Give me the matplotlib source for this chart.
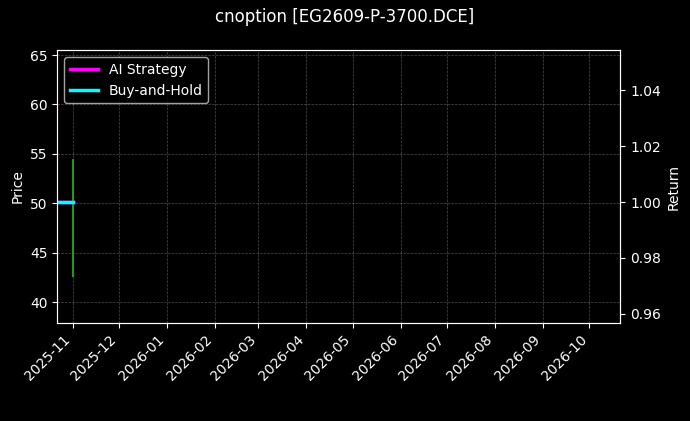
import matplotlib
matplotlib.use("Agg")
import matplotlib.pyplot as plt
import matplotlib.dates as mdates
import pandas as pd

plt.style.use("dark_background")

price_dates = pd.to_datetime(["2025-11-01"])
price_low = [42.5]
price_high = [54.5]
strat_dates = pd.to_datetime(["2025-10-22", "2025-11-01"])
strategy = [1.0, 1.0]
buyhold = [1.0, 1.0]

fig, ax = plt.subplots(figsize=(6.9, 4.21), dpi=100)
fig.subplots_adjust(left=0.083, right=0.899, top=0.881, bottom=0.233)
ax.vlines(price_dates, price_low, price_high, color="#22aa22", linewidth=1.3)
ax.set_ylim(37.9, 65.5)
ax.set_ylabel("Price")
ax.grid(True, linestyle="--", linewidth=0.5, alpha=0.3)
ax.spines["left"].set_color("#ff8080")

ax2 = ax.twinx()
ax2.plot(strat_dates, strategy, color="magenta", linewidth=2.5, label="AI Strategy")
ax2.plot(strat_dates, buyhold, color="cyan", linewidth=2.5, label="Buy-and-Hold")
ax2.set_ylim(0.9568, 1.0543)
ax2.set_ylabel("Return")
ax2.legend(loc="upper left")

ax.set_xlim(pd.Timestamp("2025-10-22"), pd.Timestamp("2026-10-21"))
ax.xaxis.set_major_locator(mdates.MonthLocator())
ax.xaxis.set_major_formatter(mdates.DateFormatter("%Y-%m"))
plt.setp(ax.get_xticklabels(), rotation=45, ha="right")
fig.suptitle("cnoption [EG2609-P-3700.DCE]")
fig.savefig("out.png")
